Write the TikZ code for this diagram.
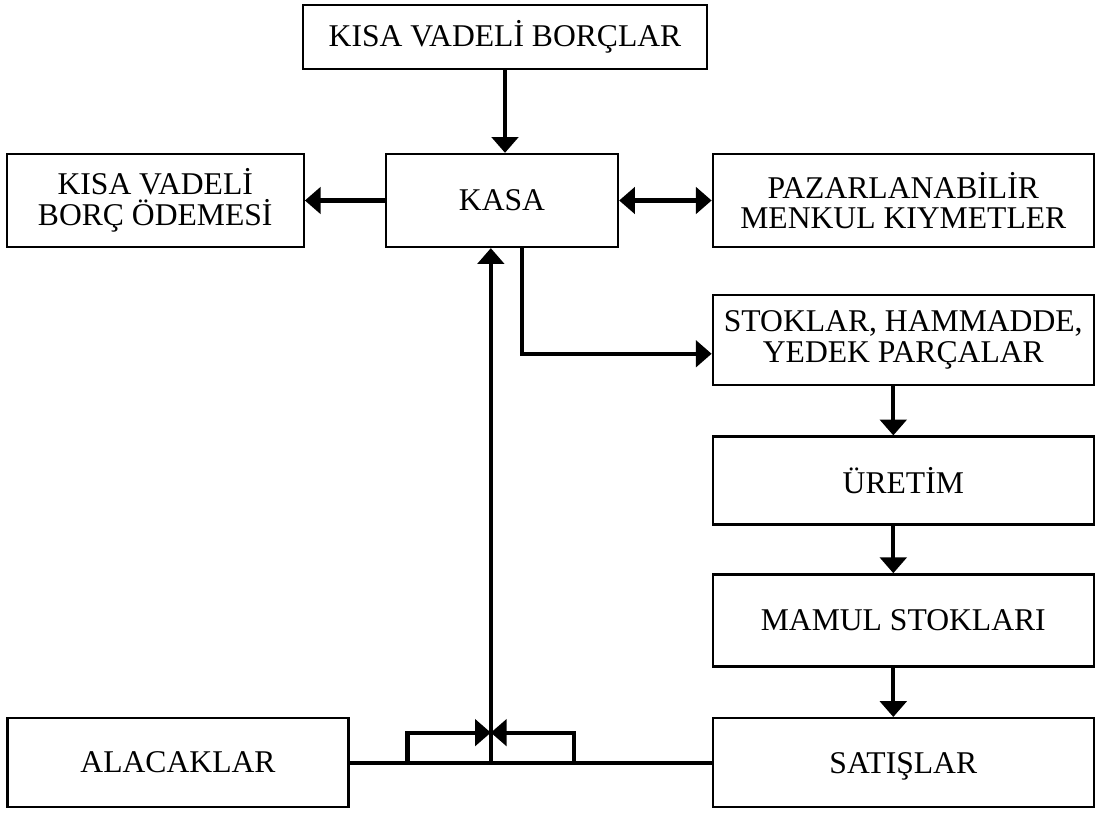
\documentclass[tikz,border=0pt]{standalone}
\usepackage{fontspec}
\setmainfont{Liberation Serif}
\usetikzlibrary{calc, arrows.meta, positioning}

\begin{document}
\begin{tikzpicture}[node distance=1cm, every node/.style={draw, rectangle, line width=1.3pt, minimum height=1.84cm, inner sep=0pt, align=center, font=\fontsize{18}{17.5}\selectfont}, >={Triangle[length=9pt, width=15pt]}, arr/.style={line width=2.4pt}]
  \useasboundingbox (0,0) rectangle (21.98,-16.26);

  \node (kasa) [minimum width=4.64cm, minimum height=1.86cm] at (10.04,-4.01) {KASA};
  \node (top) [above=1.65cm of kasa, xshift=0.06cm, minimum width=8.08cm, minimum height=1.28cm] {KISA VADELİ BORÇLAR};
  \node (odeme) [left=1.6cm of kasa, minimum width=5.94cm, minimum height=1.86cm] {KISA VADELİ\\BORÇ ÖDEMESİ};
  \node (menkul) [right=1.85cm of kasa, minimum width=7.62cm, minimum height=1.86cm] {PAZARLANABİLİR\\MENKUL KIYMETLER};
  \node (stok) [below=0.91cm of menkul, minimum width=7.62cm, minimum height=1.8cm] {STOKLAR, HAMMADDE,\\YEDEK PARÇALAR};
  \node (uretim) [below=0.99cm of stok, minimum width=7.62cm, minimum height=1.76cm] {ÜRETİM};
  \node (mamul) [below=0.95cm of uretim, minimum width=7.62cm] {MAMUL STOKLARI};
  \node (satis) [below=0.99cm of mamul, minimum width=7.62cm, minimum height=1.78cm, text depth=0pt] {SATIŞLAR};
  \node (alacak) [left=7.24cm of satis, minimum width=6.82cm, minimum height=1.78cm] {ALACAKLAR};

  \coordinate (jn) at ($(alacak.east)!0.39!(satis.west)$);
  \coordinate (bl) at ($(alacak.east)!0.16!(satis.west)$);
  \coordinate (br) at ($(alacak.east)!0.62!(satis.west)$);

  \draw[arr, ->] (top.south) -- (top.south |- kasa.north);
  \draw[arr, ->] (kasa) -- (odeme);
  \draw[arr, <->] (kasa) -- (menkul);
  \draw[arr, ->] ([xshift=0.4cm]kasa.south) |- ([yshift=-0.28cm]stok.west);
  \draw[arr, ->] ([xshift=-0.2cm]stok.south) -- ([xshift=-0.2cm]uretim.north);
  \draw[arr, ->] ([xshift=-0.2cm]uretim.south) -- ([xshift=-0.2cm]mamul.north);
  \draw[arr, ->] ([xshift=-0.2cm]mamul.south) -- ([xshift=-0.2cm]satis.north);
  \draw[arr] (alacak) -- (satis);
  \draw[arr, ->] (jn) -- (jn |- kasa.south);
  \draw[arr, ->] (bl) |- ($(jn)+(0,0.6)$);
  \draw[arr, ->] (br) |- ($(jn)+(0,0.6)$);
\end{tikzpicture}
\end{document}
